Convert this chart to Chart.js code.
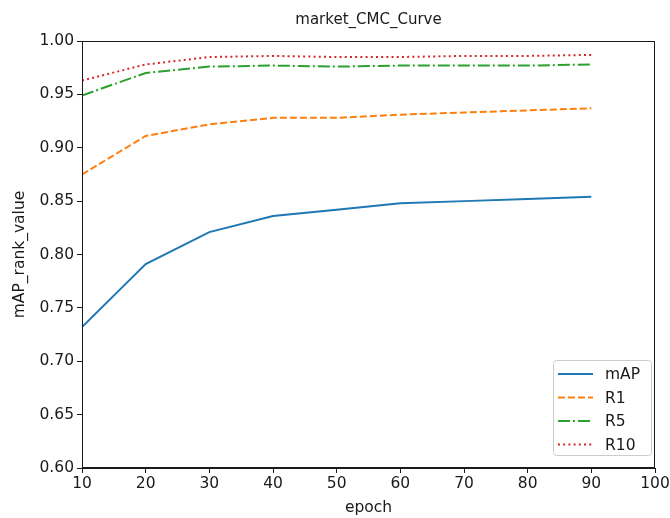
<!DOCTYPE html>
<html lang="en">
<head>
    <meta charset="UTF-8">
    <title>market_CMC_Curve</title>
    <script src="https://cdn.jsdelivr.net/npm/chart.js@4/dist/chart.umd.min.js"></script>
    <style>
        html, body { margin: 0; padding: 0; background: #fff }
    </style>
</head>
<body>
<canvas id="curve" width="670" height="518"></canvas>
<script>
    const epochs = [10, 20, 30, 40, 50, 60, 70, 80, 90];
    const mAP = [0.732, 0.791, 0.821, 0.836, 0.842, 0.848, 0.850, 0.852, 0.854];
    const r1 = [0.875, 0.911, 0.922, 0.928, 0.928, 0.931, 0.933, 0.935, 0.937];
    const r5 = [0.949, 0.970, 0.976, 0.977, 0.976, 0.977, 0.977, 0.977, 0.978];
    const r10 = [0.963, 0.978, 0.985, 0.986, 0.985, 0.985, 0.986, 0.986, 0.987];
    const seriesNames = ['mAP', 'R1', 'R5', 'R10'];

    const font = 'DejaVu Sans';
    const ink = '#1a1a1a';
    const fs = 15.5;

    function pts(values) {
        return values.map((v, i) => ({ x: epochs[i], y: v }));
    }

    // frame on all four sides, like matplotlib's axes box
    const framePlugin = {
        id: 'frame',
        afterDatasetsDraw(chart) {
            const a = chart.chartArea, ctx = chart.ctx;
            ctx.save();
            ctx.strokeStyle = ink;
            ctx.lineWidth = 1;
            ctx.strokeRect(a.left + 0.5, a.top + 0.5, a.right - a.left - 1, a.bottom - a.top - 1);
            ctx.restore();
        }
    };

    // legend box in the lower right corner of the plot
    const boxLegend = {
        id: 'boxLegend',
        afterDraw(chart) {
            const a = chart.chartArea, ctx = chart.ctx;
            const w = 98, h = 95;
            const x0 = a.right - 4 - w, y0 = a.bottom - 13 - h;
            ctx.save();
            ctx.fillStyle = 'rgba(255,255,255,0.8)';
            ctx.strokeStyle = '#cccccc';
            ctx.lineWidth = 1;
            ctx.beginPath();
            ctx.roundRect(x0 + 0.5, y0 + 0.5, w, h, 3);
            ctx.fill();
            ctx.stroke();
            chart.data.datasets.forEach((ds, i) => {
                const y = y0 + 14 + i * 23.5;
                ctx.strokeStyle = ds.borderColor;
                ctx.lineWidth = ds.borderWidth;
                ctx.setLineDash(ds.borderDash || []);
                ctx.beginPath();
                ctx.moveTo(x0 + 5, y);
                ctx.lineTo(x0 + 40, y);
                ctx.stroke();
                ctx.setLineDash([]);
                ctx.fillStyle = ink;
                ctx.font = fs + 'px "' + font + '"';
                ctx.textBaseline = 'middle';
                ctx.fillText(ds.label, x0 + 52, y + 1);
            });
            ctx.restore();
        }
    };

    new Chart(document.getElementById('curve'), {
        type: 'line',
        data: {
            datasets: [{
                label: seriesNames[0],
                data: pts(mAP),
                borderColor: '#1f77b4',
                borderWidth: 2
            }, {
                label: seriesNames[1],
                data: pts(r1),
                borderColor: '#ff7f0e',
                borderWidth: 2,
                borderDash: [7, 3]
            }, {
                label: seriesNames[2],
                data: pts(r5),
                borderColor: '#2ca02c',
                borderWidth: 2,
                borderDash: [12, 3, 2, 3]
            }, {
                label: seriesNames[3],
                data: pts(r10),
                borderColor: '#d62728',
                borderWidth: 2,
                borderDash: [2, 3.2]
            }]
        },
        options: {
            responsive: false,
            animation: false,
            events: [],
            layout: { padding: { left: 0, right: 15, top: 0, bottom: 0 } },
            elements: {
                point: { radius: 0 },
                line: { tension: 0, fill: false }
            },
            plugins: {
                legend: { display: false },
                tooltip: { enabled: false },
                title: {
                    display: true,
                    text: 'market_CMC_Curve',
                    fullSize: false,
                    color: ink,
                    font: { family: font, size: 15, weight: 'normal' },
                    padding: { top: 11, bottom: 12 }
                }
            },
            scales: {
                x: {
                    type: 'linear',
                    min: 10,
                    max: 100,
                    afterFit(s) {
                        s.height = 50;
                        s.paddingRight = 0;
                        s.paddingLeft = 0;
                    },
                    border: { color: ink, width: 1 },
                    grid: { drawOnChartArea: false, drawTicks: true, tickLength: 5, color: ink },
                    ticks: {
                        stepSize: 10,
                        autoSkip: false,
                        color: ink,
                        padding: 2,
                        maxRotation: 0,
                        font: { family: font, size: fs }
                    },
                    title: {
                        display: true,
                        text: 'epoch',
                        color: ink,
                        padding: { top: 0, bottom: 1 },
                        font: { family: font, size: fs }
                    }
                },
                y: {
                    type: 'linear',
                    min: 0.6,
                    max: 1.0,
                    afterFit(s) { s.width = 82; },
                    border: { color: ink, width: 1 },
                    grid: { drawOnChartArea: false, drawTicks: true, tickLength: 5, color: ink },
                    ticks: {
                        stepSize: 0.05,
                        autoSkip: false,
                        color: ink,
                        padding: 3,
                        font: { family: font, size: fs },
                        callback: v => v.toFixed(2)
                    },
                    title: {
                        display: true,
                        text: 'mAP_rank_value',
                        color: ink,
                        padding: { top: 11, bottom: 0 },
                        font: { family: font, size: fs }
                    }
                }
            }
        },
        plugins: [framePlugin, boxLegend]
    });
</script>
</body>
</html>
